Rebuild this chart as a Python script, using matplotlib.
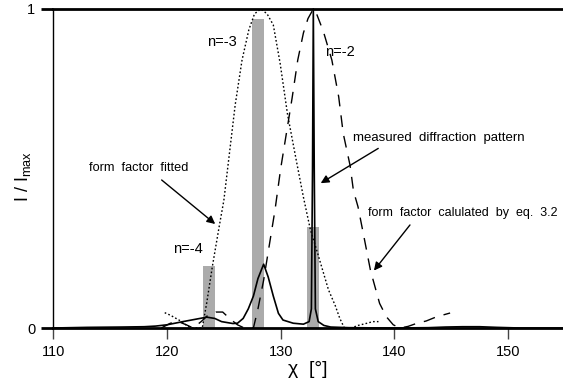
import matplotlib
matplotlib.use("Agg")
import matplotlib.pyplot as plt

plt.rcParams['font.family'] = ['Liberation Sans', 'DejaVu Sans']

# ---- data ----
bar_x = [123.7, 128.0, 132.83]
bar_h = [0.195, 0.97, 0.317]
bar_labels = ["n=-4", "n=-3", "n=-2"]

fit_x = [119.8, 120.3, 120.8, 121.3, 121.8, 122.2, 122.7, 123.1, 123.5, 124.0,
         124.6, 125.0, 125.5, 126.0, 126.6, 127.2, 127.7, 128.25, 128.8, 129.35,
         129.95, 130.6, 131.4, 132.0, 132.6, 133.2, 133.7, 134.2, 134.8, 135.2,
         135.6, 136.2, 136.8, 137.6, 138.1, 138.6]
fit_y = [0.048, 0.04, 0.03, 0.02, 0.006, 0.0, 0.0, 0.0, 0.08, 0.195,
         0.32, 0.40, 0.55, 0.70, 0.84, 0.935, 0.985, 1.0, 0.985, 0.95,
         0.83, 0.67, 0.52, 0.41, 0.31, 0.24, 0.18, 0.12, 0.07, 0.03,
         0.0, 0.0, 0.008, 0.015, 0.02, 0.02]

calc_x = [119.5, 120.3, 121.0, 121.7, 122.3, 123.0, 123.6, 124.3, 124.9, 125.5,
          126.2, 126.8, 127.6, 128.0, 128.5, 129.0, 129.5, 130.0, 130.5, 131.0,
          131.5, 132.0, 132.4, 132.87, 133.1, 133.75, 134.5, 135.1, 135.5, 136.1,
          136.4, 136.8, 137.3, 137.9, 138.7, 139.3, 139.9, 140.5, 141.2, 142.0,
          142.8, 143.7, 144.9]
calc_y = [0.0, 0.015, 0.02, 0.01, 0.0, 0.02, 0.04, 0.05, 0.05, 0.03,
          0.01, 0.0, 0.0, 0.06, 0.15, 0.26, 0.37, 0.50, 0.61, 0.72,
          0.84, 0.925, 0.97, 1.0, 0.99, 0.93, 0.84, 0.725, 0.61, 0.51,
          0.43, 0.38, 0.29, 0.18, 0.077, 0.035, 0.01, 0.0, 0.005, 0.015,
          0.022, 0.035, 0.047]

meas_x = [110, 113, 116, 118, 119, 120, 121.4, 122.9, 123.5, 124.2,
          124.8, 125.8, 126.2, 126.7, 127.15, 127.6, 128.0, 128.5, 128.9, 129.35,
          129.8, 130.2, 131.1, 132.0, 132.5, 132.7, 132.8, 132.87, 132.95, 133.05,
          133.3, 133.8, 134.4, 136, 140, 143, 144.5, 146, 147.5, 149, 151, 155]
meas_y = [0.0, 0.002, 0.003, 0.004, 0.006, 0.01, 0.02, 0.03, 0.034, 0.03,
          0.02, 0.014, 0.015, 0.03, 0.06, 0.10, 0.155, 0.20, 0.16, 0.10,
          0.046, 0.025, 0.015, 0.012, 0.02, 0.06, 0.5, 1.0, 0.5, 0.06,
          0.02, 0.008, 0.003, 0.001, 0.0, 0.001, 0.003, 0.004, 0.004, 0.002, 0.0, 0.0]

xticks = [110, 120, 130, 140, 150]
yticks = [0, 1]

# ---- figure ----
fig = plt.figure(figsize=(5.63, 3.90), dpi=100)
ax = fig.add_axes([53.3 / 563, 62 / 390, (563 - 53.3) / 563, 319 / 390])

ax.bar(bar_x, bar_h, width=1.05, color='#ababab', zorder=1)
ax.plot(fit_x, fit_y, color='black', lw=1.0, linestyle=(0, (1.2, 1.6)), zorder=2)
ax.plot(calc_x, calc_y, color='black', lw=1.0, linestyle=(0, (8.5, 6.5)), zorder=2)
ax.plot(meas_x, meas_y, color='black', lw=1.2, zorder=3, clip_on=False)

ax.set_xlim(110, 154.83)
ax.set_ylim(0, 1)
ax.set_xticks(xticks)
ax.set_yticks(yticks)
ax.set_yticklabels([str(t) for t in yticks])

ax.spines['right'].set_visible(False)
ax.spines['top'].set_linewidth(2)
ax.spines['bottom'].set_linewidth(2)
ax.spines['left'].set_linewidth(1)

ax.tick_params(axis='x', direction='out', length=8, width=1, color='#444444',
               labelsize=10.5, pad=4)
ax.tick_params(axis='y', direction='out', length=9, width=2, color='black',
               labelsize=10.5, pad=4)

ax.set_xlabel(u'\u03c7  [\u00b0]', fontsize=14, labelpad=2)
fig.text(23 / 563, 1 - 177 / 390, r'I / I$_\mathregular{max}$', fontsize=13,
         rotation=90, ha='center', va='center')

# labels for the bars
ax.text(123.49, 0.897, bar_labels[1], fontsize=10.5, ha='left', va='center')
ax.text(133.9, 0.865, bar_labels[2], fontsize=10.5, ha='left', va='center')
ax.text(120.5, 0.248, bar_labels[0], fontsize=10.5, ha='left', va='center')

# annotations
ax.text(117.52, 0.503, "form  factor  fitted", fontsize=9.2, ha='center', va='center')
ax.text(136.39, 0.596, "measured  diffraction  pattern", fontsize=9.5, ha='left', va='center')
ax.text(137.7, 0.361, "form  factor  calulated  by  eq.  3.2", fontsize=9, ha='left', va='center')

arrowprops = dict(arrowstyle='-|>', color='black', lw=1.0, mutation_scale=12,
                  shrinkA=0, shrinkB=0)
ax.annotate('', xy=(124.24, 0.326), xytext=(119.53, 0.464), arrowprops=arrowprops)
ax.annotate('', xy=(133.52, 0.454), xytext=(138.58, 0.563), arrowprops=arrowprops)
ax.annotate('', xy=(138.2, 0.18), xytext=(141.37, 0.323), arrowprops=arrowprops)

fig.savefig('out.png', dpi=100)
